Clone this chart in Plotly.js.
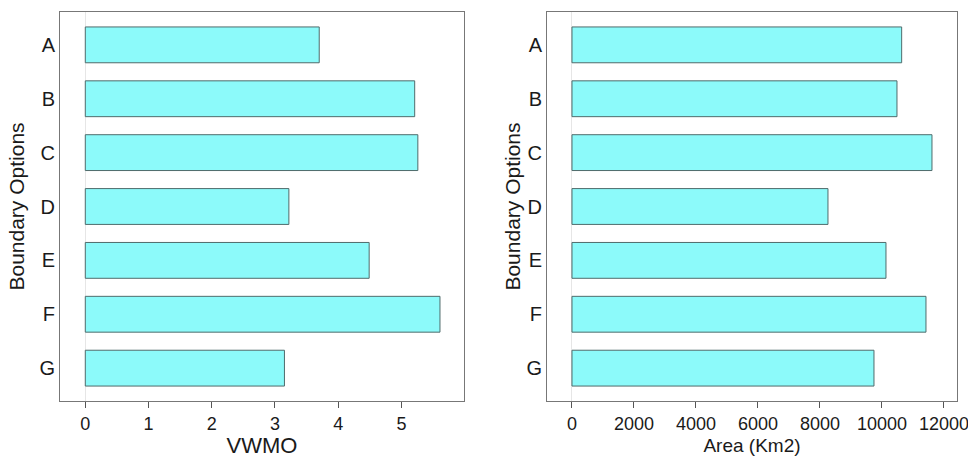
<!DOCTYPE html>
<html>
<head>
<meta charset="utf-8">
<script src="https://cdn.plot.ly/plotly-3.0.1.min.js"></script>
<style>html,body{margin:0;padding:0;background:#fff;}#chart{width:968px;height:458px;}</style>
</head>
<body>
<div id="chart"></div>
<script>
const categories = ["A", "B", "C", "D", "E", "F", "G"];
const vwmoValues = [3.70, 5.21, 5.26, 3.22, 4.49, 5.61, 3.15];
const areaValues = [10635, 10484, 11613, 8258, 10129, 11419, 9742];
const vwmoTicks = [0, 1, 2, 3, 4, 5];
const areaTicks = [0, 2000, 4000, 6000, 8000, 10000, 12000];

const barStyle = {color: "#8cfafa", line: {color: "#4f6b6b", width: 1}};
const font = "Liberation Sans, Arial, Helvetica, sans-serif";

const traces = [
  {type: "bar", orientation: "h", x: vwmoValues, y: categories, xaxis: "x", yaxis: "y",
   marker: barStyle, showlegend: false, hoverinfo: "x+y"},
  {type: "bar", orientation: "h", x: areaValues, y: categories, xaxis: "x2", yaxis: "y2",
   marker: barStyle, showlegend: false, hoverinfo: "x+y"}
];

const yCommon = {
  type: "category", categoryorder: "array", categoryarray: categories,
  range: [6.61, -0.61], showgrid: false, zeroline: false,
  showline: true, mirror: true, linecolor: "#777", linewidth: 1,
  ticks: "", tickfont: {family: font, size: 20, color: "#1a1a1a"},
  automargin: false
};
const xCommon = {
  showgrid: false, zeroline: true, zerolinecolor: "#e6e6e6", zerolinewidth: 1,
  showline: true, mirror: true, linecolor: "#777", linewidth: 1,
  ticks: "outside", ticklen: 6, tickcolor: "#555", tickwidth: 1,
  tickfont: {family: font, size: 18, color: "#1a1a1a"},
  ticklabeloverflow: "allow",
  automargin: false
};

const layout = {
  width: 968, height: 458,
  margin: {l: 60.3, r: 10.7, t: 12.3, b: 57},
  paper_bgcolor: "#fff", plot_bgcolor: "#fff",
  bargap: 0.335,
  font: {family: font},
  xaxis: Object.assign({}, xCommon, {
    domain: [0, 0.4504], range: [-0.4, 5.99],
    tickvals: vwmoTicks, ticktext: vwmoTicks.map(String),
    title: {text: "VWMO", font: {family: font, size: 22, color: "#1a1a1a"}, standoff: 7}
  }),
  yaxis: Object.assign({}, yCommon, {anchor: "x",
    title: {text: "Boundary Options", font: {family: font, size: 21, color: "#1a1a1a"}, standoff: 9}
  }),
  xaxis2: Object.assign({}, xCommon, {
    domain: [0.5429, 1], range: [-806, 12420], anchor: "y2",
    tickvals: areaTicks, ticktext: areaTicks.map(String),
    title: {text: "Area (Km2)", font: {family: font, size: 19, color: "#1a1a1a"}, standoff: 6}
  }),
  yaxis2: Object.assign({}, yCommon, {anchor: "x2",
    title: {text: "Boundary Options", font: {family: font, size: 21, color: "#1a1a1a"}, standoff: 0}
  })
};

Plotly.newPlot("chart", traces, layout, {displayModeBar: false, staticPlot: true});
</script>
</body>
</html>
